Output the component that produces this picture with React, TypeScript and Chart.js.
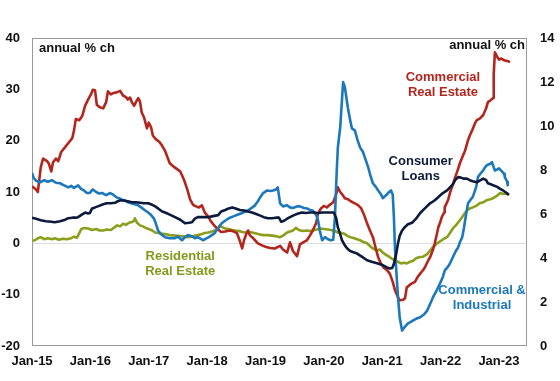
import React, { useEffect, useRef } from "react";
import { Chart, registerables } from "chart.js";

Chart.register(...registerables);

// Years since Jan-2015 (t) and annual % change values (v)
const creT = [0, .07, .10, .15, .19, .26, .29, .33, .36, .41, .45, .50, .55, .62, .69, .72, .75, .81, .86, .91, .96, 1.01, 1.04, 1.08, 1.11, 1.16, 1.22, 1.27, 1.30, 1.35, 1.40, 1.47, 1.51, 1.56, 1.61, 1.64, 1.68, 1.71, 1.75, 1.78, 1.82, 1.85, 1.88, 1.92, 1.97, 2.00, 2.04, 2.07, 2.12, 2.18, 2.23, 2.28, 2.33, 2.36, 2.42, 2.48, 2.54, 2.60, 2.66, 2.71, 2.76, 2.81, 2.86, 2.91, 2.96, 3.02, 3.07, 3.12, 3.17, 3.24, 3.31, 3.39, 3.46, 3.51, 3.56, 3.60, 3.63, 3.67, 3.70, 3.73, 3.77, 3.82, 3.87, 3.94, 4.01, 4.08, 4.16, 4.25, 4.30, 4.37, 4.42, 4.47, 4.54, 4.59, 4.66, 4.71, 4.76, 4.81, 4.87, 4.90, 4.95, 5.00, 5.05, 5.10, 5.16, 5.21, 5.24, 5.28, 5.31, 5.36, 5.41, 5.46, 5.53, 5.58, 5.64, 5.69, 5.74, 5.79, 5.84, 5.89, 5.93, 5.98, 6.03, 6.08, 6.13, 6.18, 6.22, 6.27, 6.30, 6.36, 6.39, 6.42, 6.48, 6.51, 6.56, 6.61, 6.65, 6.70, 6.73, 6.78, 6.82, 6.87, 6.90, 6.94, 6.96, 6.99, 7.02, 7.06, 7.07, 7.13, 7.16, 7.21, 7.25, 7.30, 7.33, 7.38, 7.42, 7.47, 7.50, 7.54, 7.59, 7.62, 7.67, 7.73, 7.78, 7.81, 7.85, 7.90, 7.91, 7.93, 7.95, 7.97, 8.00, 8.03, 8.07, 8.10, 8.14, 8.17, 8.19];
const creV = [11.1, 10.5, 10.0, 14.8, 16.5, 16.0, 15.5, 14.0, 15.8, 16.5, 16.0, 17.8, 18.5, 19.5, 20.5, 22.0, 24.2, 24.0, 24.8, 26.8, 28.0, 29.0, 29.9, 29.8, 27.0, 26.5, 26.3, 27.5, 29.6, 29.0, 29.3, 29.5, 29.7, 28.8, 28.5, 28.0, 28.4, 27.5, 26.8, 27.5, 28.3, 27.6, 25.5, 24.5, 22.4, 23.5, 22.6, 21.0, 20.3, 19.8, 19.0, 18.0, 16.5, 15.6, 15.0, 14.5, 14.0, 12.5, 10.5, 8.5, 7.5, 7.2, 7.0, 7.4, 6.0, 5.2, 4.2, 3.5, 2.9, 2.2, 2.3, 2.5, 2.3, 2.0, 0.5, -1.0, 0.5, 1.8, 2.5, 1.6, 1.2, 0.6, 0.0, -0.4, -0.7, -0.9, -1.0, -0.5, -1.2, -1.8, 0.2, -1.5, -2.5, -0.2, 0.3, 0.6, 1.5, 2.5, 4.0, 5.8, 6.8, 7.3, 7.0, 7.5, 8.0, 9.5, 10.9, 10.0, 9.6, 8.8, 8.6, 8.2, 7.8, 7.5, 6.8, 5.5, 3.9, 2.5, 1.2, -1.0, -2.7, -4.0, -4.8, -5.2, -5.9, -7.5, -9.2, -10.5, -11.1, -11.0, -10.7, -8.6, -8.0, -7.8, -7.5, -6.5, -5.9, -5.2, -4.7, -3.5, -2.7, -1.2, 0.0, 2.0, 3.1, 4.0, 5.1, 6.0, 7.0, 8.5, 9.8, 11.5, 12.9, 14.5, 15.6, 17.0, 18.1, 20.1, 21.0, 22.0, 23.4, 24.0, 24.3, 25.0, 26.3, 27.5, 27.8, 28.3, 33.0, 37.2, 36.8, 36.3, 35.8, 36.0, 35.8, 35.6, 35.5, 35.4, 35.3];

const ciT = [0, .03, .07, .14, .21, .27, .34, .41, .48, .55, .62, .67, .72, .79, .84, .89, .94, .99, 1.04, 1.10, 1.15, 1.20, 1.27, 1.34, 1.39, 1.44, 1.49, 1.54, 1.59, 1.64, 1.70, 1.76, 1.82, 1.87, 1.94, 1.99, 2.04, 2.09, 2.12, 2.16, 2.21, 2.28, 2.36, 2.45, 2.50, 2.57, 2.62, 2.67, 2.74, 2.79, 2.84, 2.90, 2.93, 2.98, 3.03, 3.08, 3.13, 3.19, 3.25, 3.32, 3.39, 3.46, 3.53, 3.60, 3.65, 3.70, 3.75, 3.82, 3.87, 3.91, 3.96, 4.03, 4.08, 4.13, 4.18, 4.21, 4.25, 4.30, 4.37, 4.42, 4.47, 4.54, 4.59, 4.66, 4.71, 4.76, 4.81, 4.87, 4.90, 4.93, 4.97, 5.02, 5.07, 5.12, 5.16, 5.19, 5.22, 5.24, 5.28, 5.31, 5.33, 5.36, 5.41, 5.45, 5.48, 5.53, 5.58, 5.62, 5.67, 5.70, 5.76, 5.79, 5.84, 5.89, 5.93, 5.98, 6.01, 6.06, 6.10, 6.15, 6.18, 6.20, 6.22, 6.25, 6.27, 6.30, 6.34, 6.37, 6.41, 6.44, 6.49, 6.53, 6.60, 6.65, 6.72, 6.77, 6.82, 6.87, 6.94, 6.99, 7.04, 7.07, 7.13, 7.16, 7.21, 7.26, 7.30, 7.33, 7.37, 7.40, 7.42, 7.45, 7.47, 7.52, 7.55, 7.61, 7.64, 7.69, 7.73, 7.76, 7.79, 7.85, 7.88, 7.91, 7.93, 7.97, 8.00, 8.05, 8.09, 8.10, 8.14, 8.15];
const ciV = [13.7, 12.7, 12.2, 11.9, 12.3, 12.0, 12.3, 11.8, 11.7, 11.3, 10.9, 11.2, 10.8, 11.3, 10.6, 10.3, 9.8, 9.8, 10.5, 10.0, 9.7, 9.8, 9.4, 9.8, 9.5, 9.0, 8.8, 8.5, 8.4, 8.0, 7.8, 7.6, 7.4, 7.0, 6.4, 6.0, 5.5, 4.8, 3.9, 2.5, 1.8, 1.2, 1.0, 1.0, 1.3, 0.6, 1.2, 1.6, 1.4, 1.0, 1.2, 0.8, 0.6, 0.9, 1.2, 1.6, 2.0, 3.0, 3.9, 4.5, 5.0, 5.3, 5.6, 5.9, 6.2, 6.4, 6.8, 7.4, 8.2, 9.0, 9.8, 10.3, 10.2, 10.3, 10.5, 10.9, 7.8, 7.2, 7.4, 7.0, 6.9, 7.2, 7.2, 6.9, 6.8, 6.5, 6.4, 5.5, 4.5, 2.5, 0.6, 1.2, 0.8, 0.6, 0.7, 5.1, 14.0, 18.7, 22.6, 27.9, 31.4, 30.4, 26.5, 24.0, 22.4, 22.0, 20.0, 18.7, 17.8, 16.8, 14.8, 13.5, 11.7, 11.0, 10.3, 9.5, 8.8, 9.3, 9.8, 10.3, 9.5, 5.0, -1.4, -7.0, -10.5, -14.5, -17.0, -16.5, -16.0, -15.6, -15.3, -15.0, -14.6, -14.4, -13.8, -13.1, -11.8, -10.5, -9.0, -7.8, -6.5, -5.3, -4.5, -3.9, -2.7, -1.5, -0.8, 0.2, 1.2, 3.0, 4.5, 6.5, 7.8, 8.6, 9.0, 11.0, 12.9, 13.7, 14.2, 14.8, 15.2, 15.5, 15.8, 14.8, 14.2, 14.4, 14.6, 14.0, 13.5, 12.9, 12.0, 11.3];

const conT = [0, .07, .15, .24, .33, .39, .48, .57, .62, .69, .75, .79, .84, .91, .96, .99, 1.03, 1.08, 1.15, 1.22, 1.28, 1.35, 1.42, 1.47, 1.52, 1.59, 1.64, 1.71, 1.78, 1.85, 1.92, 1.99, 2.06, 2.11, 2.16, 2.23, 2.28, 2.36, 2.45, 2.54, 2.62, 2.69, 2.74, 2.79, 2.84, 2.93, 3.02, 3.10, 3.19, 3.24, 3.31, 3.37, 3.43, 3.49, 3.56, 3.63, 3.70, 3.77, 3.84, 3.91, 3.97, 4.04, 4.11, 4.18, 4.23, 4.27, 4.32, 4.37, 4.42, 4.49, 4.56, 4.63, 4.69, 4.76, 4.83, 4.90, 4.97, 5.04, 5.10, 5.17, 5.21, 5.24, 5.28, 5.31, 5.36, 5.40, 5.45, 5.52, 5.57, 5.65, 5.74, 5.82, 5.91, 6.00, 6.08, 6.13, 6.17, 6.20, 6.24, 6.27, 6.30, 6.34, 6.39, 6.44, 6.51, 6.58, 6.65, 6.73, 6.82, 6.89, 6.94, 6.99, 7.04, 7.11, 7.16, 7.21, 7.25, 7.30, 7.35, 7.40, 7.45, 7.50, 7.55, 7.62, 7.67, 7.73, 7.78, 7.81, 7.86, 7.90, 7.97, 8.02, 8.07, 8.12, 8.17];
const conV = [5.0, 4.8, 4.5, 4.3, 4.2, 4.1, 4.3, 4.6, 4.9, 5.0, 5.0, 5.1, 5.5, 6.0, 5.8, 5.9, 6.8, 7.0, 7.3, 7.6, 7.8, 7.8, 7.9, 8.2, 8.4, 8.3, 8.2, 8.0, 8.0, 7.9, 7.8, 7.8, 7.5, 7.2, 6.8, 6.2, 6.0, 5.6, 5.1, 4.6, 3.9, 4.0, 4.1, 4.8, 5.1, 5.1, 5.1, 5.3, 5.5, 6.2, 6.5, 6.8, 7.0, 6.8, 6.5, 6.4, 6.2, 6.0, 5.7, 5.4, 5.1, 4.9, 4.9, 5.0, 5.0, 4.2, 4.4, 4.8, 5.1, 5.5, 5.8, 6.0, 5.9, 6.0, 6.0, 5.9, 6.0, 6.0, 6.0, 6.0, 5.0, 3.1, 1.8, 0.6, -0.4, -1.0, -1.5, -1.8, -2.0, -2.6, -3.3, -3.6, -3.9, -4.2, -4.7, -4.9, -4.8, -4.0, -2.0, 0.0, 1.5, 2.5, 3.2, 3.7, 4.0, 4.8, 5.9, 6.8, 7.8, 8.3, 8.8, 9.3, 9.8, 10.3, 10.9, 11.5, 12.3, 12.9, 12.8, 12.6, 12.6, 12.3, 12.1, 11.9, 12.2, 12.6, 12.3, 11.7, 11.5, 11.3, 11.0, 10.6, 10.3, 9.9, 9.4];

const resT = [0, .05, .10, .15, .21, .27, .34, .39, .46, .53, .60, .67, .72, .77, .81, .84, .89, .96, 1.03, 1.10, 1.16, 1.22, 1.28, 1.35, 1.40, 1.46, 1.51, 1.56, 1.61, 1.66, 1.70, 1.75, 1.76, 1.80, 1.85, 1.90, 1.95, 2.00, 2.06, 2.11, 2.16, 2.21, 2.28, 2.36, 2.45, 2.54, 2.62, 2.67, 2.74, 2.79, 2.84, 2.91, 2.96, 3.02, 3.08, 3.13, 3.19, 3.22, 3.25, 3.31, 3.36, 3.43, 3.48, 3.55, 3.60, 3.65, 3.72, 3.77, 3.84, 3.91, 3.97, 4.04, 4.11, 4.18, 4.25, 4.30, 4.37, 4.42, 4.47, 4.52, 4.57, 4.64, 4.71, 4.76, 4.81, 4.88, 4.93, 5.00, 5.07, 5.12, 5.19, 5.24, 5.31, 5.36, 5.41, 5.46, 5.52, 5.57, 5.62, 5.67, 5.74, 5.79, 5.84, 5.91, 5.96, 6.01, 6.06, 6.13, 6.18, 6.22, 6.27, 6.32, 6.37, 6.42, 6.48, 6.53, 6.58, 6.63, 6.70, 6.77, 6.82, 6.87, 6.94, 6.99, 7.02, 7.07, 7.11, 7.16, 7.21, 7.26, 7.33, 7.40, 7.45, 7.50, 7.55, 7.61, 7.67, 7.73, 7.79, 7.85, 7.90, 7.97, 8.02, 8.07, 8.14, 8.17];
const resV = [0.5, 0.6, 1.0, 1.2, 0.8, 1.0, 0.8, 1.0, 0.7, 0.9, 0.8, 1.0, 1.3, 1.1, 2.0, 2.7, 3.0, 2.9, 2.6, 2.8, 2.5, 2.5, 2.7, 2.6, 3.0, 3.5, 3.3, 3.8, 3.6, 4.0, 4.1, 4.4, 4.9, 4.0, 3.5, 3.3, 3.0, 2.8, 2.5, 2.1, 2.0, 1.9, 1.8, 1.6, 1.5, 1.4, 1.3, 1.2, 1.3, 1.5, 1.6, 1.8, 2.0, 2.1, 2.3, 2.5, 3.0, 3.5, 3.2, 2.9, 2.8, 2.6, 2.5, 2.4, 2.2, 2.1, 2.2, 2.1, 1.9, 1.7, 1.6, 1.6, 1.5, 1.4, 1.2, 1.5, 2.1, 2.3, 2.5, 3.0, 2.6, 2.4, 2.5, 2.4, 2.5, 2.7, 2.9, 2.8, 2.7, 2.6, 2.4, 2.1, 2.0, 1.8, 1.4, 1.2, 1.0, 0.8, 0.6, 0.3, 0.0, -0.5, -1.0, -1.4, -1.2, -1.8, -2.2, -2.7, -3.1, -3.3, -3.6, -3.9, -3.8, -3.9, -3.6, -3.4, -2.9, -2.7, -2.6, -2.1, -1.4, -0.7, 0.0, 0.4, 0.6, 1.0, 1.2, 2.0, 2.9, 3.5, 4.5, 5.6, 6.4, 6.8, 7.0, 7.3, 7.8, 8.0, 8.4, 8.6, 8.8, 9.3, 9.8, 9.6, 9.7, 9.5];

const START_YEAR = 2015;
const END_YEAR = 2023.48;
const yearTicks = [2015, 2016, 2017, 2018, 2019, 2020, 2021, 2022, 2023];
const leftMin = -20, leftMax = 40, leftStep = 10;
const rightMin = 0, rightMax = 14, rightStep = 2;

const RED = "#b3261e";
const BLUE = "#1b78bd";
const NAVY = "#0c1a3c";
const GREEN = "#8b9f1c";

// Annotation labels: [lines, year, value, colour]
const labels: [string[], number, number, string][] = [
  [["Commercial", "Real Estate"], 2022.04, 30.8, RED],
  [["Consumer", "Loans"], 2021.66, 14.5, NAVY],
  [["Residential", "Real Estate"], 2017.54, -4.1, "#86991c"],
  [["Commercial &", "Industrial"], 2022.71, -10.6, BLUE],
];

const FONT = "'Liberation Sans', Arial, sans-serif";

function pts(t: number[], v: number[]) {
  return t.map((tt, i) => ({ x: START_YEAR + tt, y: v[i] }));
}

const framePlugin = {
  id: "frame",
  beforeDatasetsDraw(chart: any) {
    const { ctx, chartArea: a } = chart;
    ctx.save();
    ctx.strokeStyle = "#9a9a9a";
    ctx.lineWidth = 1;
    ctx.strokeRect(a.left + 0.5, a.top + 0.5, a.right - a.left - 1, a.bottom - a.top - 1);
    ctx.restore();
  },
  afterDatasetsDraw(chart: any) {
    const { ctx, chartArea: a, scales } = chart;
    ctx.save();
    ctx.font = `bold 13px ${FONT}`;
    ctx.textBaseline = "middle";
    ctx.fillStyle = "#111";
    ctx.textAlign = "left";
    ctx.fillText("annual % ch", a.left + 7, a.top + 10);
    ctx.textAlign = "right";
    ctx.fillText("annual % ch", a.right - 2, a.top + 7);
    ctx.textAlign = "center";
    for (const [lines, yr, val, col] of labels) {
      const cx = scales.x.getPixelForValue(yr);
      const cy = scales.y.getPixelForValue(val);
      ctx.fillStyle = col;
      const lh = 15;
      lines.forEach((ln, i) => {
        ctx.fillText(ln, cx, cy + (i - (lines.length - 1) / 2) * lh);
      });
    }
    ctx.restore();
  },
};

export default function App() {
  const ref = useRef<HTMLCanvasElement | null>(null);
  useEffect(() => {
    if (!ref.current) return;
    const tickFont = { family: FONT, size: 13, weight: "bold" as const };
    const ds = (label: string, t: number[], v: number[], color: string, order: number) => ({
      label,
      data: pts(t, v),
      borderColor: color,
      backgroundColor: color,
      borderWidth: 2.6,
      pointRadius: 0,
      tension: 0,
      order,
      borderJoinStyle: "round" as const,
    });
    const chart = new Chart(ref.current, {
      type: "line",
      data: {
        datasets: [
          ds("Consumer Loans", conT, conV, NAVY, 0),
          ds("Commercial Real Estate", creT, creV, RED, 2),
          ds("Commercial & Industrial", ciT, ciV, BLUE, 1),
          ds("Residential Real Estate", resT, resV, GREEN, 3),
        ],
      },
      options: {
        animation: false,
        responsive: false,
        layout: { padding: { top: 38, left: 0, right: 0, bottom: 0 } },
        plugins: { legend: { display: false }, tooltip: { enabled: false } },
        scales: {
          x: {
            type: "linear",
            min: START_YEAR,
            max: END_YEAR,
            afterBuildTicks: (s: any) => {
              s.ticks = yearTicks.map((v) => ({ value: v }));
            },
            afterFit: (s: any) => {
              s.height = 35;
            },
            grid: { display: false, drawTicks: false },
            border: { display: false },
            ticks: {
              autoSkip: false,
              maxRotation: 0,
              padding: 8,
              color: "#111",
              font: tickFont,
              callback: (v: any) => "Jan-" + String(v).slice(2),
            },
          },
          y: {
            position: "left",
            min: leftMin,
            max: leftMax,
            afterFit: (s: any) => {
              s.width = 32;
            },
            grid: {
              drawTicks: false,
              color: (c: any) => (c.tick && c.tick.value === 0 ? "#dcdcdc" : "rgba(0,0,0,0)"),
            },
            border: { display: false },
            ticks: { stepSize: leftStep, padding: 12, color: "#111", font: tickFont },
          },
          y2: {
            position: "right",
            min: rightMin,
            max: rightMax,
            afterFit: (s: any) => {
              s.width = 33;
            },
            grid: { display: false, drawTicks: false },
            border: { display: false },
            ticks: { stepSize: rightStep, padding: 13, color: "#111", font: tickFont },
          },
        },
      },
      plugins: [framePlugin],
    });
    return () => chart.destroy();
  }, []);
  return (
    <div style={{ position: "absolute", left: 0, top: 0, width: 560, height: 381, background: "#fff" }}>
      <canvas ref={ref} width={560} height={381} style={{ display: "block" }} />
    </div>
  );
}
